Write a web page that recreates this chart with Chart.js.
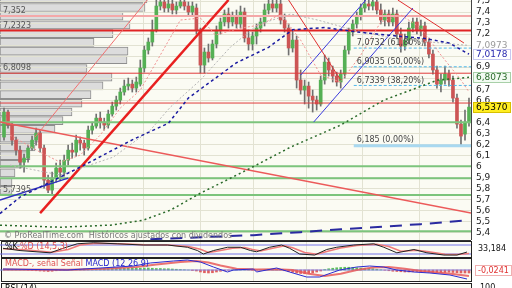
<!DOCTYPE html>
<html>
<head>
<meta charset="utf-8">
<title>Cotización diaria</title>
<script src="https://cdn.jsdelivr.net/npm/chart.js"></script>
<style>
  body { margin: 0; background: #fff; font-family: "DejaVu Sans", sans-serif; }
  #wrap { position: relative; width: 512px; height: 288px; overflow: hidden; }
  canvas { position: absolute; left: 0; }
  #plotbg { position: absolute; left: 0; top: 0; width: 471px; height: 240px; background: #fbfbf3; }
  .box { position: absolute; left: 1px; width: 469px; border: 1px solid #222; background: #fbfbf3; }
  .lab { position: absolute; font-size: 8px; line-height: 9px; white-space: nowrap; }
</style>
</head>
<body>
<div id="wrap">
  <div id="plotbg"></div>
  <canvas id="vol" width="512" height="240" style="top:0"></canvas>
  <canvas id="main" width="512" height="240" style="top:0"></canvas>
  <div style="position:absolute;left:0;top:240px;width:471px;height:1px;background:#333"></div>
  <div class="lab" style="left:4px;top:231px;color:#777">© ProRealTime.com&nbsp; Históricos ajustados con dividendos</div>

  <div class="box" style="top:241px;height:15px"></div>
  <canvas id="sto" width="471" height="15" style="top:242px"></canvas>
  <div class="lab" style="left:5px;top:242px"><span style="color:#000">%K</span><span style="color:#e05050">-%D (14,5,3)</span></div>
  <div class="lab" style="left:478px;top:244px;color:#111">33,184</div>

  <div class="box" style="top:258px;height:22px"></div>
  <canvas id="macd" width="471" height="22" style="top:259px"></canvas>
  <div class="lab" style="left:5px;top:259px"><span style="color:#e05050">MACD-, señal</span> <span style="color:#e05050">Señal</span> <span style="color:#2222cc">MACD (12 26 9)</span></div>
  <div class="lab" style="left:475px;top:265px;color:#e03030;background:#fff;border:1px solid #f0b0b0;padding:0 2px">-0,0241</div>

  <div class="box" style="top:283px;height:20px"></div>
  <div class="lab" style="left:5px;top:284px;color:#000">RSI (14)</div>
  <div class="lab" style="left:480px;top:283px;color:#111">100</div>
</div>

<script>
// velas diarias (índice 0 = primera sesión visible)
const open = [6.265,6.492,6.374,6.237,6.146,6.037,6.074,6.165,6.237,6.301,
  6.165,5.874,5.783,5.892,5.983,5.946,6.055,6.146,6.128,6.237,
  6.21,6.165,6.328,6.365,6.437,6.401,6.374,6.474,6.546,6.601,
  6.674,6.728,6.746,6.71,6.746,6.892,7.055,7.128,7.237,7.455,
  7.492,7.437,7.474,7.419,7.455,7.492,7.455,7.401,7.437,7.237,
  6.919,7.037,6.983,7.11,7.237,7.31,7.383,7.31,7.365,7.292,
  7.401,7.165,7.11,7.183,7.255,7.31,7.419,7.474,7.437,7.474,
  7.328,7.255,7.074,7.146,6.783,6.692,6.728,6.637,6.601,6.565,
  6.783,6.946,6.874,6.819,6.765,6.837,7.055,7.219,7.292,7.365,
  7.437,7.474,7.455,7.492,7.419,7.328,7.383,7.31,7.383,7.201,
  7.092,7.146,7.255,7.31,7.237,7.274,7.128,7.019,6.874,6.746,
  6.783,6.837,6.783,6.619,6.383,6.292,6.401];
const high = [6.528,6.51,6.401,6.265,6.183,6.11,6.192,6.274,6.346,6.328,
  6.192,5.919,5.946,6.028,6.055,6.101,6.192,6.21,6.283,6.265,
  6.237,6.365,6.401,6.474,6.492,6.437,6.51,6.583,6.637,6.71,
  6.783,6.801,6.783,6.81,6.965,7.092,7.165,7.328,7.51,7.546,
  7.537,7.528,7.51,7.492,7.528,7.528,7.492,7.492,7.474,7.255,
  7.074,7.11,7.146,7.274,7.346,7.419,7.437,7.401,7.419,7.455,
  7.437,7.237,7.219,7.292,7.346,7.474,7.51,7.51,7.51,7.51,
  7.383,7.292,7.237,7.183,6.874,6.783,6.765,6.692,6.637,6.819,
  7.01,6.983,6.91,6.855,6.874,7.092,7.255,7.328,7.401,7.474,
  7.51,7.51,7.528,7.528,7.474,7.419,7.419,7.437,7.419,7.255,
  7.201,7.31,7.346,7.346,7.328,7.31,7.165,7.055,6.91,6.837,
  6.91,6.874,6.819,6.655,6.419,6.51,6.619];
const low = [6.237,6.346,6.192,6.101,5.983,5.946,6.037,6.146,6.192,6.128,
  5.801,5.76,5.74,5.855,5.874,5.91,6.01,6.074,6.092,6.146,
  6.101,6.146,6.292,6.346,6.346,6.328,6.346,6.455,6.51,6.565,
  6.646,6.692,6.674,6.674,6.728,6.855,7.019,7.092,7.219,7.419,
  7.401,7.401,7.383,7.383,7.437,7.419,7.365,7.365,7.201,6.846,
  6.846,6.946,6.965,7.074,7.201,7.274,7.255,7.274,7.255,7.255,
  7.128,7.055,7.055,7.11,7.219,7.274,7.383,7.401,7.401,7.292,
  7.219,7.01,7.037,6.71,6.655,6.565,6.528,6.492,6.51,6.546,
  6.746,6.819,6.765,6.728,6.71,6.801,7.019,7.183,7.255,7.328,
  7.401,7.419,7.419,7.383,7.292,7.274,7.274,7.274,7.165,7.037,
  7.055,7.11,7.219,7.201,7.183,7.092,6.983,6.837,6.71,6.674,
  6.746,6.728,6.583,6.346,6.185,6.237,6.365];
const close = [6.492,6.374,6.237,6.146,6.037,6.074,6.165,6.237,6.301,6.165,
  5.874,5.783,5.892,5.983,5.946,6.055,6.146,6.128,6.237,6.21,
  6.165,6.328,6.365,6.437,6.401,6.374,6.474,6.546,6.601,6.674,
  6.728,6.746,6.71,6.765,6.892,7.055,7.128,7.237,7.455,7.492,
  7.437,7.474,7.419,7.455,7.492,7.455,7.401,7.455,7.237,6.919,
  7.037,6.983,7.11,7.237,7.31,7.383,7.31,7.365,7.292,7.401,
  7.165,7.11,7.183,7.255,7.31,7.419,7.474,7.437,7.474,7.328,
  7.255,7.074,7.146,6.783,6.692,6.728,6.637,6.601,6.565,6.783,
  6.946,6.874,6.819,6.765,6.837,7.055,7.219,7.292,7.365,7.437,
  7.474,7.455,7.492,7.419,7.328,7.383,7.31,7.383,7.201,7.092,
  7.146,7.255,7.31,7.237,7.274,7.128,7.019,6.874,6.746,6.783,
  6.837,6.783,6.619,6.383,6.274,6.401,6.537];

// cambios de mes (posición en índice de sesión)
const monthIdx = [34.75, 49, 62.25, 75.5, 89.5, 103.75];

// eje de precios
const yTicks = [7.5,7.4,7.3,7.2,7.1,7.0,6.9,6.8,6.7,6.6,6.5,6.4,6.3,6.2,6.1,6.0,5.9,5.8,5.7,5.6,5.5,5.4];
const yHidden = [7.1, 7.0, 6.8, 6.5];

// medias móviles [índice, precio]
const maBlue = [[-1,5.57],[4,5.72],[20,6.01],[32,6.24],[41,6.39],[46,6.62],[58,6.94],[66,7.08],[72,7.24],[80,7.26],[88,7.22],[96,7.19],[105,7.16],[111,7.12],[116,7.0178]];
const maGreen = [[-1,5.465],[14,5.446],[26.5,5.465],[34.75,5.51],[41.5,5.601],[49,5.755],[61.5,5.983],[71.5,6.174],[84,6.374],[94.75,6.601],[108.25,6.783],[116,6.8073]];
const maGrey = [[1.5,6.01],[14,5.92],[27.25,6.083],[36.5,6.328],[41.5,6.537],[49,6.783],[56.5,7.083],[63.25,7.283],[71.5,7.383],[78.25,7.328],[87.25,7.237],[96.5,7.165],[106.5,7.128],[116,7.0973]];
const maPink = [[1.5,6.283],[9,6.128],[14,6.037],[19,6.101],[24,6.283],[29,6.528],[34,6.692],[39,7.01],[44,7.328],[49,7.346],[52.75,7.192],[59,7.255],[64,7.283],[69,7.383],[74,7.146],[79,6.828],[84,6.765],[89,7.01],[94,7.31],[99,7.374],[104,7.255],[109,7.01],[114,6.783],[116,6.674]];
const maLong = [[36.5,5.337],[49,5.355],[62.25,5.374],[74,5.401],[84,5.428],[92.25,5.446],[104,5.474],[116,5.51]];

// líneas de tendencia [índice, precio]
const redThick = [[9,5.574],[56,7.51]];
const redThin = [[7.75,6.265],[35.75,7.51]];
const redFall = [[-1,6.401],[116.5,5.574]];
const redSteep = [[71,7.51],[84,6.783]];
const redUpper = [[98.25,7.51],[114.75,7.119]];
const blueCh1 = [[77.25,6.401],[102,7.437]];
const blueCh2 = [[74,6.828],[90.25,7.51]];
const blueLow = [[-1,5.692],[16,5.892]];

// niveles horizontales
const resLevels = [7.365, 7.2323, 6.845, 6.574];
const supLevels = [6.40, 6.0, 5.892, 5.7395, 5.41];
const fibLevels = [7.0732, 6.9035, 6.7339];
const fibLabels = ['7,0732 (61,80%)', '6,9035 (50,00%)', '6,7339 (38,20%)'];
const fibZero = 6.185;
const fibZeroLabel = '6,185 (0,00%)';
const fibStart = 87.25;
const leftTags = [[7.365,'7,352'],[7.2323,'7,2323'],[6.845,'6,8098'],[5.7395,'5,7395']];
const lastTags = [[7.0973,'7,0973'],[7.0178,'7,0178'],[6.8073,'6,8073'],[6.537,'6,5370']];

// volumen por precio
const vpPrice = [7.519,7.442,7.363,7.284,7.205,7.125,7.046,6.967,6.888,6.809,6.73,6.651,6.572,6.493,6.414,6.335,6.255,6.176,6.097,6.018,5.939,5.86,5.781];
const vpVol = [147,145,123,130,113,94,128,127,87,112,103,91,82,72,63,55,40,35,30,22,15,12,12];

// estocástico [índice, valor]
const stoK = [[-0.25,58],[4,43],[11.5,28],[14.75,58],[18.25,88],[22.25,95],[28.25,88],[34.75,80],[40.75,80],[45.75,65],[48.25,43],[49.75,20],[52.25,43],[55.75,65],[59,65],[61.5,43],[63,35],[66.25,65],[69.25,80],[71.25,58],[73.75,20],[77.5,13],[80.5,50],[83,65],[87.25,80],[92.25,88],[94.75,65],[98,28],[102.25,50],[105.5,28],[109.75,13],[113,13],[115.5,33.184]];
const stoD = [[-0.25,55],[5,48],[12,32],[16,50],[19,80],[23,92],[29,88],[35,82],[41,80],[46,70],[49,52],[51,30],[53,38],[57,58],[60,63],[62,50],[64,40],[67,58],[70,75],[72,62],[75,30],[78,18],[81,40],[84,60],[88,76],[93,85],[96,70],[99,38],[103,45],[106,35],[110,18],[113,16],[116,24]];
const stoBands = [80, 20];

// MACD
const macdLine = [[-0.25,0.008],[15.75,0],[24,0.016],[32.25,0.032],[36.5,0.056],[42.25,0.072],[45.75,0.08],[49,0.064],[52.25,0.024],[55.75,-0.016],[57.25,0],[62.25,0.008],[63,-0.016],[68,0.016],[71.25,-0.016],[75.5,-0.056],[78.75,-0.056],[83.75,0],[88,0.024],[91.25,0.032],[94.75,0.024],[98,0],[102.25,-0.016],[106.25,-0.024],[111.25,-0.04],[115.5,-0.072]];
const macdSignal = [[-0.25,0.004],[16,0.002],[25,0.01],[33,0.024],[38,0.044],[44,0.064],[48,0.072],[51,0.06],[54,0.036],[58,0.01],[63,0.004],[68,0.006],[72,0],[76,-0.03],[80,-0.048],[84,-0.03],[88,0],[92,0.02],[96,0.024],[100,0.01],[104,-0.008],[108,-0.02],[112,-0.032],[116,-0.048]];
const macdHist = [0.004,0.006,0.006,0.004,0.002,
  0,-0.002,-0.004,-0.006,-0.008,
  -0.01,-0.012,-0.01,-0.006,
  -0.002,0,0.002,0.004,0.006,0.006,0.008,0.008,0.01,0.01,
  0.012,0.012,0.014,0.014,0.012,0.012,0.014,0.016,0.016,0.014,0.014,0.016,0.016,0.014,0.012,0.012,0.01,0.01,0.008,
  0.006,0.004,0.002,0,-0.004,-0.008,
  -0.016,-0.022,-0.024,-0.022,-0.016,-0.01,
  -0.006,-0.002,0.002,0.004,0.004,0.002,0,-0.002,-0.002,0,0.004,0.006,
  0.006,0.004,0,-0.006,
  -0.012,-0.018,-0.024,-0.028,-0.03,-0.028,-0.024,-0.016,-0.008,
  0.004,0.01,0.014,0.018,0.02,0.022,0.022,0.02,0.018,0.016,0.014,0.012,0.01,0.006,
  0.002,-0.002,-0.006,-0.01,-0.012,
  -0.014,-0.016,-0.016,-0.014,-0.012,-0.014,-0.016,-0.018,-0.02,-0.02,-0.022,-0.02,-0.018,-0.02,-0.022,-0.024,-0.024,-0.0241];

const X0 = -1, X1 = 116.5, YMIN = 5.33, YMAX = 7.51;
const FONT = '"DejaVu Sans", sans-serif';

const pairs = p => p.map(([x, y]) => ({ x, y }));
const fmt = v => String(v).replace('.', ',');

function lineSet(pts, color, width, dash, order) {
  return { type: 'line', data: pairs(pts), borderColor: color, borderWidth: width,
    borderDash: dash || [], pointRadius: 0, tension: 0, order: order || 3 };
}

function xAxis() {
  return {
    type: 'linear', min: X0, max: X1, offset: false,
    afterBuildTicks: s => { s.ticks = monthIdx.map(v => ({ value: v })); },
    ticks: { display: false },
    grid: { color: '#e2e2d2', offset: false, drawTicks: false },
    border: { display: false },
    afterFit: s => { s.height = 0; }
  };
}

const base = {
  responsive: false, animation: false, events: [],
  plugins: { legend: { display: false }, tooltip: { enabled: false } }
};

// ---- volumen por precio (capa inferior)
new Chart(document.getElementById('vol'), {
  type: 'bar',
  data: { datasets: [{
    data: vpPrice.map((p, i) => ({ x: vpVol[i], y: p })),
    backgroundColor: '#dcdcdc', borderColor: '#8e8e8e', borderWidth: 1,
    borderSkipped: false, barThickness: 8
  }]},
  options: {
    ...base, indexAxis: 'y',
    layout: { padding: { right: 41 } },
    scales: {
      y: { type: 'linear', min: YMIN, max: YMAX, offset: false, display: false },
      x: { type: 'linear', min: 0, max: 471, display: false }
    }
  }
});

// ---- textos sobre el gráfico principal
const tags = {
  id: 'tags',
  afterDraw(ch) {
    const { ctx, scales: { x, y }, chartArea: a } = ch;
    ctx.save();
    ctx.font = '8px ' + FONT;
    ctx.textBaseline = 'bottom';
    ctx.fillStyle = '#555';
    leftTags.forEach(([v, t]) => ctx.fillText(t, x.getPixelForValue(-0.25), y.getPixelForValue(v) - 1));
    ctx.fillStyle = '#444';
    fibLevels.forEach((v, i) => ctx.fillText(fibLabels[i], x.getPixelForValue(fibStart) + 3, y.getPixelForValue(v) - 1));
    ctx.fillText(fibZeroLabel, x.getPixelForValue(fibStart) + 3, y.getPixelForValue(fibZero) - 2);

    const styles = [
      { fg: '#9a9a9a', bg: null, line: null },
      { fg: '#2a2ab0', bg: '#ffffff', line: '#c8c8f0' },
      { fg: '#2a6a2a', bg: '#f2fbf2', line: '#a8d0a8' },
      { fg: '#000000', bg: '#ffee22', line: '#d8c000' }
    ];
    ctx.font = '9px ' + FONT;
    ctx.textBaseline = 'middle';
    lastTags.forEach(([v, t], i) => {
      const yy = Math.round(y.getPixelForValue(v));
      const st = styles[i];
      if (st.bg) {
        ctx.fillStyle = st.bg;
        ctx.fillRect(a.right + 2, yy - 5, 38, 11);
        ctx.strokeStyle = st.line;
        ctx.strokeRect(a.right + 2.5, yy - 4.5, 37, 10);
      }
      ctx.fillStyle = st.fg;
      ctx.fillText(t, a.right + 5, yy + 0.5);
    });
    ctx.restore();
  }
};

const resStyle = [['#f4a8a8', 2], ['#e02424', 2], ['#e03c3c', 1], ['#e03c3c', 1]];

const datasets = [
  { type: 'bar', data: open.map((o, i) => ({ x: i, y: [low[i], high[i]] })),
    backgroundColor: '#707070', barThickness: 1, grouped: false, order: 20 },
  { type: 'bar', data: open.map((o, i) => ({ x: i, y: [o, close[i]] })),
    backgroundColor: c => (c.raw && c.raw.y[1] >= c.raw.y[0]) ? '#55b055' : '#cc5555',
    barThickness: 3, grouped: false, order: 19 },
  ...supLevels.map(v => lineSet([[X0, v], [X1, v]], '#7cc47c', 2, null, 8)),
  ...resLevels.map((v, i) => lineSet([[X0, v], [X1, v]], resStyle[i][0], resStyle[i][1], null, 7)),
  ...fibLevels.map(v => lineSet([[fibStart, v], [X1, v]], '#4fb8ea', 1, [3, 2], 7)),
  lineSet([[fibStart, fibZero], [X1, fibZero]], '#a8d8f0', 3, null, 7),
  lineSet(redThick, '#e82020', 2.5, null, 5),
  lineSet(redThin, '#f07070', 1, null, 5),
  lineSet(redFall, '#ec5a5a', 1.5, null, 5),
  lineSet(redSteep, '#e03030', 1, null, 5),
  lineSet(redUpper, '#e03030', 1, null, 5),
  lineSet(blueCh1, '#3a3adb', 1, null, 5),
  lineSet(blueCh2, '#3a3adb', 1, null, 5),
  lineSet(blueLow, '#3030c0', 1.5, null, 5),
  lineSet(maGrey, '#b4b4b4', 1, [2, 2], 4),
  lineSet(maPink, '#f09090', 1, [2, 2], 4),
  lineSet(maGreen, '#2a6a2a', 1.5, [2, 3], 3),
  lineSet(maBlue, '#1a1aa0', 1.5, [3, 3], 3),
  lineSet(maLong, '#2a2aa0', 2, [12, 8], 3)
];

new Chart(document.getElementById('main'), {
  type: 'bar',
  data: { datasets },
  options: {
    ...base,
    layout: { padding: 0 },
    scales: {
      x: xAxis(),
      y: {
        type: 'linear', position: 'right', min: YMIN, max: YMAX, offset: false,
        afterBuildTicks: s => { s.ticks = yTicks.map(v => ({ value: v })); },
        ticks: { autoSkip: false, callback: v => yHidden.includes(v) ? '' : fmt(v), font: { size: 9, family: FONT }, color: '#222', padding: 5 },
        grid: { color: '#e2e2d2', drawTicks: false },
        border: { display: true, color: '#444' },
        afterFit: s => { s.width = 41; s.paddingTop = 0; s.paddingBottom = 0; }
      }
    }
  },
  plugins: [tags]
});

// ---- estocástico
new Chart(document.getElementById('sto'), {
  type: 'line',
  data: { datasets: [
    ...stoBands.map(v => lineSet([[X0, v], [X1, v]], '#7474ea', 1, null, 5)),
    lineSet(stoD, '#f07a7a', 1.5, null, 3),
    lineSet(stoK, '#222', 1, null, 2)
  ]},
  options: { ...base, layout: { padding: 0 },
    scales: { x: xAxis(), y: { min: 0, max: 100, display: false } } }
});

// ---- MACD
new Chart(document.getElementById('macd'), {
  type: 'bar',
  data: { datasets: [
    { type: 'bar', data: macdHist.map((v, i) => ({ x: i, y: v })),
      backgroundColor: c => (c.raw && c.raw.y >= 0) ? '#5cc05c' : '#e06060',
      barThickness: 2, order: 9 },
    lineSet([[X0, 0], [X1, 0]], '#8080e0', 1, null, 8),
    lineSet(macdSignal, 'rgba(232,90,90,0.85)', 2, null, 4),
    lineSet(macdLine, '#2a2ad0', 1, null, 3)
  ]},
  options: { ...base, layout: { padding: 0 },
    scales: { x: xAxis(), y: { type: 'linear', min: -0.088, max: 0.088, display: false } } }
});
</script>
</body>
</html>
